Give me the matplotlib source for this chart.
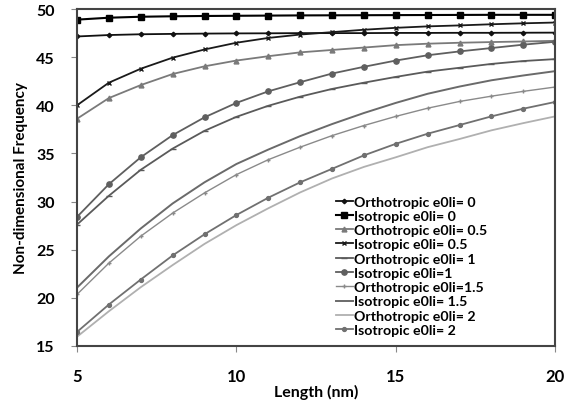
import matplotlib
matplotlib.use("Agg")
import matplotlib.pyplot as plt

plt.rcParams["font.family"] = ["Lato", "DejaVu Sans"]
plt.rcParams["font.weight"] = "bold"

# ── data ──────────────────────────────────────────────────────────────────────
length_nm = list(range(5, 21))

ortho_00 = [47.15, 47.3, 47.38, 47.42, 47.45, 47.47, 47.48, 47.5, 47.5, 47.5,
            47.52, 47.52, 47.53, 47.53, 47.54, 47.55]
iso_00 = [48.9, 49.1, 49.2, 49.25, 49.28, 49.3, 49.32, 49.34, 49.35, 49.36,
          49.37, 49.38, 49.39, 49.4, 49.4, 49.4]
ortho_05 = [38.6, 40.75, 42.1, 43.25, 44.05, 44.65, 45.1, 45.5, 45.75, 46.0,
            46.25, 46.4, 46.5, 46.57, 46.63, 46.7]
iso_05 = [40.0, 42.35, 43.8, 44.95, 45.8, 46.5, 47.0, 47.35, 47.6, 47.85,
          48.05, 48.2, 48.3, 48.42, 48.52, 48.6]
ortho_10 = [27.6, 30.6, 33.3, 35.5, 37.35, 38.8, 39.95, 40.9, 41.7, 42.35,
            42.95, 43.5, 43.9, 44.3, 44.6, 44.8]
iso_10 = [28.4, 31.8, 34.6, 36.9, 38.75, 40.25, 41.45, 42.4, 43.3, 44.0,
          44.65, 45.2, 45.6, 45.95, 46.3, 46.6]
ortho_15 = [20.35, 23.6, 26.4, 28.8, 30.9, 32.8, 34.35, 35.65, 36.85, 37.9,
            38.85, 39.7, 40.4, 40.95, 41.45, 41.9]
iso_15 = [21.05, 24.3, 27.2, 29.8, 32.0, 33.9, 35.4, 36.8, 38.05, 39.2,
          40.25, 41.2, 41.95, 42.6, 43.1, 43.55]
ortho_20 = [15.95, 18.6, 21.1, 23.4, 25.6, 27.55, 29.3, 30.95, 32.4, 33.6,
            34.6, 35.65, 36.5, 37.4, 38.15, 38.85]
iso_20 = [16.45, 19.3, 21.9, 24.4, 26.6, 28.6, 30.4, 32.0, 33.4, 34.8,
          36.0, 37.05, 37.95, 38.85, 39.65, 40.35]

series = [
    ("Orthotropic e0li= 0", ortho_00, "#111111", "D", 2.3, 1.3),
    ("Isotropic e0li= 0", iso_00, "#000000", "s", 4.2, 1.5),
    ("Orthotropic e0li= 0.5", ortho_05, "#7a7a7a", "^", 3.5, 1.3),
    ("Isotropic e0li= 0.5", iso_05, "#1a1a1a", "x", 3.5, 1.3),
    ("Orthotropic e0li= 1", ortho_10, "#5a5a5a", "_", 5, 1.3),
    ("Isotropic e0li=1", iso_10, "#5f5f5f", "o", 3.8, 1.3),
    ("Orthotropic e0li=1.5", ortho_15, "#8a8a8a", "+", 3.5, 1.0),
    ("Isotropic e0li= 1.5", iso_15, "#6a6a6a", None, 0, 1.4),
    ("Orthotropic e0li= 2", ortho_20, "#b0b0b0", None, 0, 1.3),
    ("Isotropic e0li= 2", iso_20, "#707070", "o", 2.8, 1.3),
]

fig = plt.figure(figsize=(5.66, 4.02), dpi=100)
ax = fig.add_axes([0.136, 0.137, 0.845, 0.838])

for label, vals, col, mk, ms, lw in series:
    ax.plot(length_nm, vals, color=col, lw=lw, marker=mk, ms=ms,
            mec=col, mfc=col, label=label)

ax.set_xlim(5, 20)
ax.set_ylim(15, 50)
ax.set_xticks([5, 10, 15, 20])
ax.set_yticks(range(15, 51, 5))
ax.tick_params(axis="x", direction="out", length=4, pad=12, labelsize=12,
               color="#888888")
ax.tick_params(axis="y", direction="out", length=4, pad=12, labelsize=11.5,
               color="#888888")
for s in ax.spines.values():
    s.set_color("#444444")
    s.set_linewidth(1.5)

ax.set_xlabel("Length (nm)", fontsize=11.5, fontweight="bold", labelpad=0)
ax.set_ylabel("Non-dimensional Frequency", fontsize=11, fontweight="bold",
              labelpad=6)

ax.legend(loc="lower left", bbox_to_anchor=(0.52, 0.0), frameon=False,
          handlelength=1.2, handletextpad=0.1,
          labelspacing=0.16, borderaxespad=0.3,
          prop={"weight": "bold", "size": 10.2})

fig.savefig("out.png", dpi=100)
